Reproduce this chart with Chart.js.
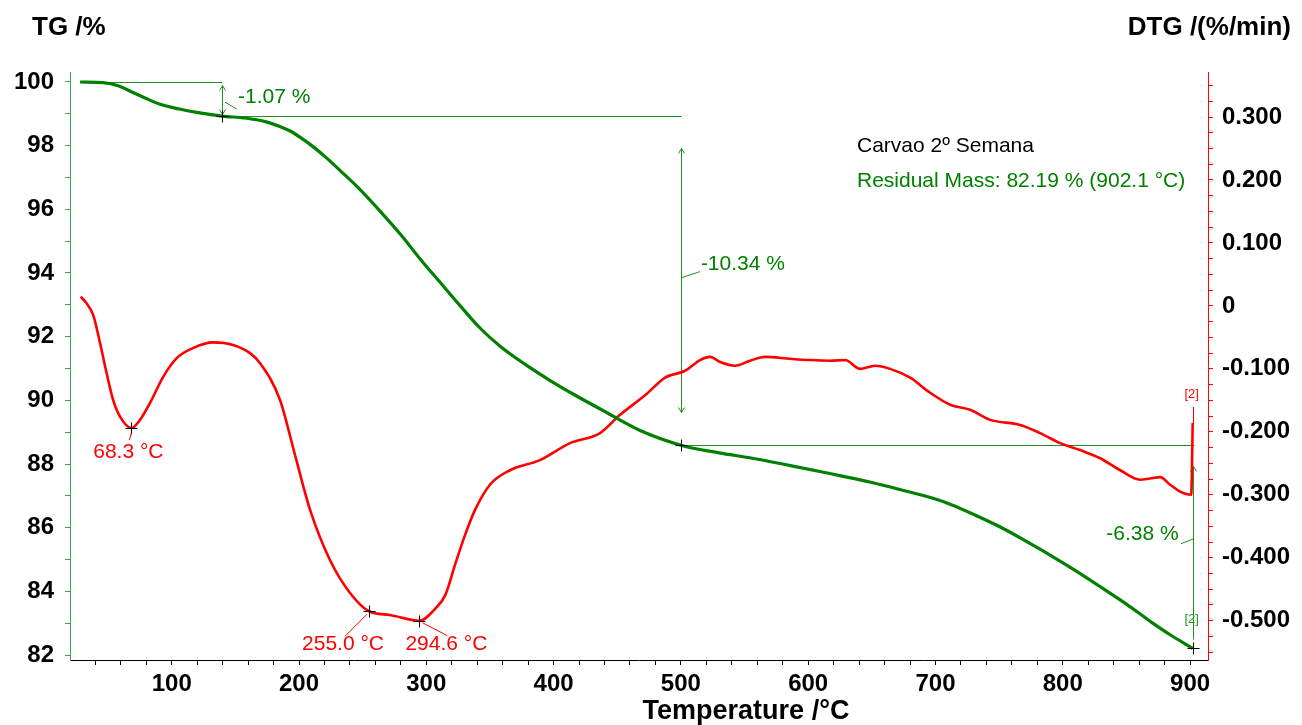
<!DOCTYPE html>
<html><head><meta charset="utf-8">
<script src="https://cdn.jsdelivr.net/npm/chart.js@4.4.1/dist/chart.umd.min.js"></script>
<style>html,body{margin:0;padding:0;background:#fff;}#wrap{width:1302px;height:725px;position:relative;}</style>
</head><body><div id="wrap"><canvas id="c" width="1302" height="725"></canvas></div>
<script>
// ---- data ----
const tgTemp  = [28,46,58,70,80,91,106,122,139.5,159,175,185,193,201,211,222,232,248,264,280,295,311,326,342,358,378,397,417,437,468,500,530,555,586,617,650,672,700,712,731,751,770,790,810,830,850,869,885,902.1];
const tgValue = [100.0,99.98,99.88,99.66,99.48,99.3,99.15,99.03,98.93,98.86,98.74,98.6,98.46,98.26,97.97,97.6,97.23,96.62,95.93,95.2,94.45,93.7,93.0,92.28,91.7,91.12,90.63,90.16,89.72,89.05,88.59,88.35,88.19,87.95,87.7,87.42,87.2,86.9,86.73,86.4,86.02,85.6,85.14,84.65,84.13,83.6,83.05,82.62,82.21];

const dtgTemp  = [28.5,33.2,38.4,43.7,48.9,53.9,59.4,68.3,75.1,83,93.2,103.9,116.7,132.4,148.2,161.5,169.4,185,196.9,208.7,224.4,240.1,255,271.5,294.6,307.4,315,322.6,330.4,338.3,350,365.8,389.3,412.9,436.5,452.2,471.9,487.6,503.3,515.1,523,530.8,542.6,554.4,566.2,585.8,601.5,617.2,629,640.8,652.6,664.4,680.1,695.8,711.5,727.2,742.9,766.5,782.2,797.9,813.6,829.4,845.1,860.8,868.6,876.5,884.4,892.2,900.9,902.1];
const dtgValue = [0.0146,0.004,-0.015,-0.059,-0.107,-0.149,-0.176,-0.194,-0.181,-0.154,-0.113,-0.083,-0.067,-0.058,-0.062,-0.075,-0.091,-0.149,-0.237,-0.324,-0.404,-0.456,-0.485,-0.491,-0.500,-0.48,-0.459,-0.411,-0.364,-0.324,-0.284,-0.261,-0.245,-0.218,-0.202,-0.173,-0.142,-0.114,-0.103,-0.086,-0.081,-0.089,-0.095,-0.087,-0.081,-0.084,-0.086,-0.087,-0.086,-0.1,-0.095,-0.1,-0.114,-0.138,-0.157,-0.165,-0.181,-0.189,-0.202,-0.218,-0.229,-0.242,-0.261,-0.276,-0.274,-0.272,-0.284,-0.295,-0.300,-0.186];

const xTickLabels   = ['100','200','300','400','500','600','700','800','900'];
const tgTickLabels  = ['82','84','86','88','90','92','94','96','98','100'];
const dtgTickLabels = ['-0.500','-0.400','-0.300','-0.200','-0.100','0','0.100','0.200','0.300'];

// mass-loss steps
const stepTemps   = [139.5, 500, 902.1];
const stepLevels  = [100, 98.93, 88.59, 82.21];
const stepLabels  = ['-1.07 %', '-10.34 %', '-6.38 %'];
const arrowTop    = [99.92, 97.93, 87.94];
const arrowBottom = [99.0, 89.63, 82.5];

// DTG peaks
const peakTemps  = [68.3, 255.0, 294.6];
const peakValues = [-0.194, -0.485, -0.500];
const peakLabels = ['68.3 °C', '255.0 °C', '294.6 °C'];

const sampleName  = 'Carvao 2º Semana';
const residualTxt = 'Residual Mass: 82.19 % (902.1 °C)';

const FONT = '"Liberation Sans", Arial, sans-serif';
const GREEN = '#008000';
const RED = '#ff0000';

function range(a, b, s) { const r = []; for (let k = Math.round(a / s); k * s <= b + 1e-9; k++) r.push(k); return r; }

const annoPlugin = {
  id: 'anno',
  beforeDatasetsDraw(chart) {
    const ctx = chart.ctx, xs = chart.scales.x, ys = chart.scales.y;
    const X = v => Math.round(xs.getPixelForValue(v)) + 0.5, Y = v => Math.round(ys.getPixelForValue(v)) + 0.5;
    ctx.save();
    ctx.strokeStyle = '#1f8f1f'; ctx.lineWidth = 1;
    for (let i = 0; i < stepTemps.length; i++) {
      const x0 = X(i === 0 ? tgTemp[0] : stepTemps[i - 1]), x1 = X(stepTemps[i]) + (i === 2 ? 1 : 0);
      const yl = Y(stepLevels[i]);
      ctx.beginPath(); ctx.moveTo(x0, yl); ctx.lineTo(x1, yl); ctx.stroke();
      const xa = X(stepTemps[i]), yt = Y(arrowTop[i]), yb = Y(arrowBottom[i]);
      ctx.beginPath(); ctx.moveTo(xa, yt); ctx.lineTo(xa, yb); ctx.stroke();
      ctx.beginPath(); ctx.moveTo(xa - 3, yt + 5); ctx.lineTo(xa, yt); ctx.lineTo(xa + 3, yt + 5); ctx.stroke();
      if (i < 2) { ctx.beginPath(); ctx.moveTo(xa - 3, yb - 5); ctx.lineTo(xa, yb); ctx.lineTo(xa + 3, yb - 5); ctx.stroke(); }
    }
    ctx.restore();
  },
  afterDatasetsDraw(chart) {
    const ctx = chart.ctx, xs = chart.scales.x, ys = chart.scales.y, y2 = chart.scales.y2;
    const X = v => xs.getPixelForValue(v), Y = v => ys.getPixelForValue(v), Y2 = v => y2.getPixelForValue(v);
    ctx.save();
    ctx.strokeStyle = '#000'; ctx.lineWidth = 1;
    const cross = (x, y) => { x = Math.round(x) + 0.5; y = Math.round(y) + 0.5; ctx.beginPath(); ctx.moveTo(x - 6, y); ctx.lineTo(x + 6, y); ctx.moveTo(x, y - 6); ctx.lineTo(x, y + 6); ctx.stroke(); };
    for (let i = 0; i < stepTemps.length; i++) cross(X(stepTemps[i]), Y(stepLevels[i + 1]));
    for (let i = 0; i < peakTemps.length; i++) cross(X(peakTemps[i]), Y2(peakValues[i]));

    ctx.font = '21px ' + FONT; ctx.textBaseline = 'middle';
    ctx.fillStyle = GREEN; ctx.strokeStyle = '#1f8f1f';
    const line = (a, b, c, d) => { ctx.beginPath(); ctx.moveTo(a, b); ctx.lineTo(c, d); ctx.stroke(); };
    let xa = X(stepTemps[0]), ya = (Y(arrowTop[0]) + Y(arrowBottom[0])) / 2;
    line(xa + 3, ya + 3, xa + 15, ya + 10);
    ctx.textAlign = 'left'; ctx.fillText(stepLabels[0], xa + 16, ya - 2);
    xa = X(stepTemps[1]); ya = Y((stepLevels[1] + stepLevels[2]) / 2);
    line(xa + 1, ya - 3, xa + 19, ya - 9);
    ctx.fillText(stepLabels[1], xa + 20, ya - 16);
    xa = X(stepTemps[2]) + 1; ya = Y((stepLevels[2] + stepLevels[3]) / 2);
    line(xa, ya - 8, xa - 13, ya - 3);
    ctx.textAlign = 'right'; ctx.fillText(stepLabels[2], xa - 15, ya - 13);
    ctx.font = '13px ' + FONT; ctx.textAlign = 'center';
    ctx.fillStyle = '#1f9f1f';
    ctx.fillText('[2]', xa - 2, Y(82.21) - 29);
    ctx.fillStyle = RED; ctx.strokeStyle = RED;
    const sx = X(dtgTemp[dtgTemp.length - 1]), sy = Y2(dtgValue[dtgValue.length - 1]);
    line(Math.round(sx) + 0.5, sy, Math.round(sx) + 0.5, sy - 16);
    ctx.fillText('[2]', sx - 1, sy - 29);

    ctx.font = '21px ' + FONT; ctx.fillStyle = RED; ctx.strokeStyle = RED; ctx.textAlign = 'center';
    let px = X(peakTemps[0]), py = Y2(peakValues[0]);
    line(px, py + 5, px - 2, py + 12);
    ctx.fillText(peakLabels[0], px - 3, py + 24);
    px = X(peakTemps[1]); py = Y2(peakValues[1]);
    line(px - 2, py + 3, px - 24, py + 25);
    ctx.fillText(peakLabels[1], px - 26, py + 33);
    px = X(peakTemps[2]); py = Y2(peakValues[2]);
    line(px + 3, py + 2, px + 28, py + 15);
    ctx.fillText(peakLabels[2], px + 27, py + 23);

    ctx.textAlign = 'left'; ctx.fillStyle = '#000';
    ctx.fillText(sampleName, 857, 146);
    ctx.fillStyle = GREEN;
    ctx.fillText(residualTxt, 857, 181);

    ctx.fillStyle = '#000'; ctx.font = 'bold 26px ' + FONT;
    ctx.textAlign = 'left'; ctx.fillText('TG /%', 32, 28);
    ctx.textAlign = 'right'; ctx.fillText('DTG /(%/min)', 1291, 28);
    ctx.textAlign = 'center'; ctx.font = 'bold 27px ' + FONT;
    ctx.fillText('Temperature /°C', 746, 712);
    ctx.restore();
  }
};

new Chart(document.getElementById('c'), {
  type: 'line',
  data: {
    datasets: [
      { label: 'TG', data: tgTemp.map((t, i) => ({ x: t, y: tgValue[i] })), yAxisID: 'y',
        borderColor: GREEN, borderWidth: 3.2, pointRadius: 0, cubicInterpolationMode: 'monotone', fill: false },
      { label: 'DTG', data: dtgTemp.map((t, i) => ({ x: t, y: dtgValue[i] })), yAxisID: 'y2',
        borderColor: RED, borderWidth: 2.6, pointRadius: 0, cubicInterpolationMode: 'monotone', fill: false }
    ]
  },
  options: {
    responsive: false, animation: false, devicePixelRatio: 1,
    layout: { padding: { top: 72, left: 0, right: 0, bottom: 0 } },
    plugins: { legend: { display: false }, tooltip: { enabled: false } },
    scales: {
      x: {
        type: 'linear', position: 'bottom', min: 20.1, max: 914.1,
        afterFit(s) { s.height = 65; },
        afterBuildTicks(s) { s.ticks = range(40, 900, 20).map(k => ({ value: k * 20 })); },
        border: { display: true, color: '#000', width: 1 },
        grid: { drawOnChartArea: false, drawTicks: true, tickLength: 5, color: '#000' },
        ticks: { autoSkip: false, maxRotation: 0, padding: 5, color: '#000',
          font: { family: FONT, size: 24, weight: 'bold' },
          callback: v => xTickLabels.includes(String(v)) ? String(v) : '' }
      },
      y: {
        position: 'left', min: 81.843, max: 100.314,
        afterFit(s) { s.width = 70; },
        afterBuildTicks(s) { s.ticks = range(82, 100, 1).map(k => ({ value: k })); },
        border: { display: true, color: '#3ea33e', width: 1 },
        grid: { drawOnChartArea: false, drawTicks: true, tickLength: 5, color: '#3ea33e' },
        ticks: { autoSkip: false, padding: 11, color: '#000',
          font: { family: FONT, size: 24, weight: 'bold' },
          callback: v => tgTickLabels.includes(String(v)) ? String(v) : '' }
      },
      y2: {
        position: 'right', min: -0.5624, max: 0.3715,
        afterFit(s) { s.width = 94; },
        afterBuildTicks(s) { s.ticks = range(-0.55, 0.35, 0.025).map(k => ({ value: k * 0.025 })); },
        border: { display: true, color: RED, width: 1 },
        grid: { drawOnChartArea: false, drawTicks: true, tickLength: 5, color: RED },
        ticks: { autoSkip: false, padding: 9, color: '#000',
          font: { family: FONT, size: 24, weight: 'bold' },
          callback: v => { const k = Math.round(v * 40); return (k % 4 === 0) ? dtgTickLabels[(k + 20) / 4] || '' : ''; } }
      }
    }
  },
  plugins: [annoPlugin]
});
</script></body></html>
